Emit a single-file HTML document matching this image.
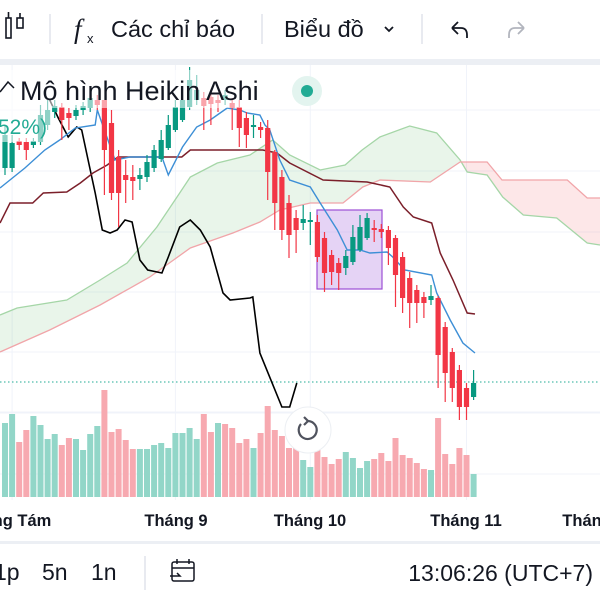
<!DOCTYPE html>
<html><head><meta charset="utf-8"><style>
html,body{margin:0;padding:0;background:#fff;width:600px;height:600px;overflow:hidden;font-family:"Liberation Sans","DejaVu Sans",sans-serif;}
svg{display:block}
</style></head><body>
<svg id="chart" width="600" height="600" viewBox="0 0 600 600" xmlns="http://www.w3.org/2000/svg">
  <rect x="0" y="0" width="600" height="600" fill="#fff"/>
  <g>
    <g>
      <rect x="6" y="18" width="5" height="20" fill="none" stroke="#131722" stroke-width="1.6"/>
      <line x1="8.5" y1="12" x2="8.5" y2="18" stroke="#131722" stroke-width="1.6"/>
      <rect x="17" y="18" width="6" height="10" fill="none" stroke="#131722" stroke-width="1.6"/>
      <line x1="20" y1="13" x2="20" y2="18" stroke="#131722" stroke-width="1.6"/>
    </g>
    <line x1="50" y1="14" x2="50" y2="44" stroke="#e0e3eb" stroke-width="1.5"/>
    <g>
      <text x="74" y="38" font-size="27" font-family="Liberation Serif, serif" font-style="italic" fill="#131722">f</text>
      <text x="87" y="43" font-size="13" fill="#131722">x</text>
      <text x="111" y="37" font-size="23.5" fill="#131722">Các chỉ báo</text>
    </g>
    <line x1="262" y1="14" x2="262" y2="44" stroke="#e0e3eb" stroke-width="1.5"/>
    <g>
      <text x="284" y="37" font-size="23.5" fill="#131722">Biểu đồ</text>
      <polyline points="385,27 389,31 393,27" fill="none" stroke="#131722" stroke-width="1.8"/>
    </g>
    <line x1="422" y1="14" x2="422" y2="44" stroke="#e0e3eb" stroke-width="1.5"/>
    <g>
      <path d="M452 28 L458 22 M452 28 L458 34 M452 28 L461 28 Q467 28 467 35 L467 38" fill="none" stroke="#131722" stroke-width="1.8"/>
    </g>
    <g>
      <path d="M524 28 L518 22 M524 28 L518 34 M524 28 L515 28 Q509 28 509 35 L509 38" fill="none" stroke="#b2b5be" stroke-width="1.8"/>
    </g>
  </g>
  <rect x="0" y="59" width="600" height="6" fill="#eceff4"/>
  <g id="grid"></g>
  <g id="cloud"></g>
  <g id="volume"></g>
  <line x1="0" y1="382" x2="600" y2="382" stroke="#22ab94" stroke-width="1" stroke-dasharray="1.5,2.5"/>
  <rect x="317" y="210" width="65" height="79" fill="rgba(186,140,230,0.38)" stroke="#9c4fd6" stroke-width="1.2"/>
  <g id="lines"></g>
  <g id="candles"></g>
  <rect x="0" y="70" width="290" height="38" fill="#fff" opacity="0.55"/>
  <rect x="0" y="108" width="52" height="34" fill="#fff" opacity="0.55"/>
  <polyline points="0,92 8,82 14,88" fill="none" stroke="#131722" stroke-width="1.5"/>
  <text x="20" y="100" font-size="27" fill="#131722">Mô hình Heikin Ashi</text>
  <circle cx="307" cy="91" r="15" fill="#e3f4ef"/>
  <circle cx="307" cy="91" r="6" fill="#22ab94"/>
  <text x="-2" y="134" font-size="21" fill="#22ab94">52%)</text>
  <g>
    <circle cx="308" cy="430" r="23" fill="#fff" stroke="#eceff3" stroke-width="1"/>
    <path d="M301 424 A9 9 0 1 0 308 421" fill="none" stroke="#50535e" stroke-width="2.2"/>
    <polyline points="304,417 308,421 304,425" fill="none" stroke="#50535e" stroke-width="2.2"/>
  </g>
  <g font-size="16.5" font-weight="bold" fill="#131722" text-anchor="middle">
    <text x="22" y="526">ng Tám</text>
    <text x="176" y="526">Tháng 9</text>
    <text x="310" y="526">Tháng 10</text>
    <text x="466" y="526">Tháng 11</text>
    <text x="582" y="526">Thán</text>
  </g>
  <rect x="0" y="541" width="600" height="3" fill="#eceff4"/>
  <g font-size="23" fill="#131722">
    <text x="-6" y="580">1p</text>
    <text x="42" y="580">5n</text>
    <text x="91" y="580">1n</text>
    <line x1="145" y1="556" x2="145" y2="590" stroke="#e0e3eb" stroke-width="1.5"/>
    <g fill="none" stroke="#131722" stroke-width="1.5">
      <rect x="172" y="562" width="22" height="19" rx="2"/>
      <line x1="172" y1="568" x2="194" y2="568"/>
      <line x1="177" y1="559" x2="177" y2="564"/><line x1="189" y1="559" x2="189" y2="564"/>
      <polyline points="170,576 180,576 177,573"/>
    </g>
    <text x="593" y="581" text-anchor="end">13:06:26 (UTC+7)</text>
  </g>
</svg>
<script>
const opens  = [252,252,279,278,275,278,295,308,313,307,304,310,312,320,320,297,263,245,243,241,243,252,261,272,290,300,313,320,322,323,320,320,317,313,302,293,293,292,268,243,217,202,197,198,198,182,165,157,152,158,170,182,192,191,190,182,163,142,130,123,120,122,93,68,50,32,23];
const closes = [285,277,275,270,279,305,310,314,300,302,310,314,322,315,270,227,227,240,239,245,258,270,280,295,313,320,340,330,314,316,317,325,312,292,285,295,290,248,217,190,185,190,201,200,163,147,148,147,164,183,193,202,190,188,172,145,122,117,117,117,124,65,47,32,13,13,37];
const highs  = [295,285,282,282,282,315,320,320,317,312,315,318,330,325,320,310,270,260,255,252,265,275,290,305,320,325,353,345,328,328,325,330,322,320,308,305,298,300,270,250,225,210,215,208,205,188,170,162,170,195,205,207,200,196,194,185,168,148,135,128,135,124,98,72,55,37,50];
const lows   = [245,248,270,260,272,275,290,302,280,290,300,305,308,310,225,220,193,217,220,230,238,248,258,270,288,298,310,315,290,295,308,315,290,273,272,282,282,220,190,180,162,167,190,175,158,128,135,130,145,155,168,180,178,182,155,113,107,92,97,102,115,32,18,18,0,0,20];
const volumes = [74,83,55,67,81,72,58,63,52,59,58,47,63,71,107,65,68,57,48,48,48,52,54,49,64,64,69,58,83,65,74,73,69,54,58,49,64,91,67,61,49,49,37,30,57,40,33,38,45,39,29,36,38,44,36,59,42,39,34,28,27,79,43,33,49,42,23];
const volumeUp = [1,1,0,0,1,1,1,1,0,0,1,1,1,1,0,0,0,0,0,1,1,1,1,1,1,1,1,1,0,0,1,0,0,0,0,1,0,0,0,0,0,0,1,1,0,0,0,0,1,1,1,1,0,0,0,0,0,0,0,0,1,0,0,0,0,0,1];
const tenkanIdx = [-0.7,2.8,5.6,7.7,9.9,12.7,13,15.5,17.6,22.1,23,25,27,28.9,30.3,31.3,33.1,34.1,35.9,36.6,37.3,38.7,40.1,43,44.4,46.8,48.2,50,51.4,53.8,54.6,56.3,60.1,60.8,62.7,64.5,66.2];
const tenkanVal = [232,252,270,280,292,295,310,260,263,263,245,273,293,300,307,312,310,307,305,295,290,260,240,233,217,190,170,170,167,168,163,150,145,127,100,77,67];
const kijunIdx = [-0.7,0.7,3.9,5.4,8.7,10.6,12.4,14.4,15.9,24.9,26.1,36.3,38.3,40.1,44.8,51,54.2,56.1,57.5,60.1,61.3,63.1,65.1,66.2];
const kijunVal = [197,217,217,227,228,237,247,255,263,263,270,270,267,257,240,238,233,213,203,197,167,140,107,106];
const chikouIdx = [6.3,7.5,8.9,10.1,10.8,11.7,12.7,13.7,14.8,15.8,16.9,17.9,19,20.1,22.1,23,24.6,26.1,27.5,28.9,30.7,31.7,34.5,34.9,35.9,39,40.1,41.1];
const chikouVal = [320,302,283,293,290,260,227,190,187,190,200,198,160,150,147,163,193,200,190,173,127,120,122,123,67,13,13,37];
const spanAIdx = [-0.7,1.7,8.7,13.4,17.2,21.4,24.6,26.1,29.9,34.5,37.7,40.1,44.4,47.9,50.3,52.8,57,60.8,64.1,65.1,67.9,70.1,73,77.7,82,83.8];
const spanAVal = [105,112,120,140,157,193,227,243,257,265,280,265,250,255,270,283,294,287,260,248,245,223,205,202,177,175];
const spanBIdx = [-0.7,6.3,13.4,20.4,26.1,29.3,32.1,35.9,38.7,43,47.6,50.4,52.8,59.9,64.1,67.9,70,79.2,82,83.8];
const spanBVal = [68,90,115,143,172,180,187,198,210,217,217,233,240,238,258,258,240,240,222,222];
const gridPrices = [310,249,188,128,68,8];
const gridTimes = [1,24,43,65];

const NS = 'http://www.w3.org/2000/svg';
const xScale = i => 5 + 7.1 * i;
const yScale = p => 420 - p;
const vScale = v => 497 - v;
function mk(tag, attrs, parent){ const e = document.createElementNS(NS, tag); for (const k in attrs) e.setAttribute(k, attrs[k]); parent.appendChild(e); return e; }

const grid = document.getElementById('grid');
gridPrices.forEach(p => {
  const l = mk('line', {x1:0, x2:600, y1:yScale(p), y2:yScale(p), stroke:'#f0f3fa', 'stroke-width':1}, grid);
  
  
});
[413,474].forEach(y => { const l = mk('line', {x1:0,x2:600,y1:y,y2:y,stroke:'#f0f3fa','stroke-width':1}, grid);
  
   });
gridTimes.forEach(t => {
  const l = mk('line', {x1:xScale(t), x2:xScale(t), y1:65, y2:500, stroke:'#f0f3fa', 'stroke-width':1}, grid);
  
  
});

function pts(idx, val){ return idx.map((d,k) => xScale(d).toFixed(1) + ',' + yScale(val[k]).toFixed(1)); }
const cloud = document.getElementById('cloud');
const defs = mk('defs', {}, cloud);
const cpG = mk('clipPath', {id:'clipG'}, defs); mk('rect', {x:-10, y:0, width:xScale(64.1)+10, height:600}, cpG);
const cpR = mk('clipPath', {id:'clipR'}, defs); mk('rect', {x:xScale(64.1), y:0, width:700, height:600}, cpR);
const aPts = pts(spanAIdx, spanAVal), bPts = pts(spanBIdx, spanBVal);
const poly = aPts.concat(bPts.slice().reverse()).join(' ');
const fg = mk('polygon', {points:poly, fill:'rgba(76,175,80,0.12)', 'clip-path':'url(#clipG)'}, cloud);


const fr = mk('polygon', {points:poly, fill:'rgba(242,54,69,0.12)', 'clip-path':'url(#clipR)'}, cloud);


const la = mk('polyline', {points:aPts.join(' '), fill:'none', stroke:'#a5d6a7', 'stroke-width':1.3}, cloud);


const lb = mk('polyline', {points:bPts.join(' '), fill:'none', stroke:'#f1a5a9', 'stroke-width':1.3}, cloud);



const vg = document.getElementById('volume');
volumes.forEach((v,i) => {
  const r = mk('rect', {x:xScale(i)-3, y:vScale(v), width:6, height:497-vScale(v), fill: volumeUp[i] ? '#92d6c8' : '#f7a9b0'}, vg);
  
  
});

const lg = document.getElementById('lines');
const lc = mk('polyline', {points:pts(chikouIdx, chikouVal).join(' '), fill:'none', stroke:'#000', 'stroke-width':1.6}, lg);


const lk = mk('polyline', {points:pts(kijunIdx, kijunVal).join(' '), fill:'none', stroke:'#7b1f2a', 'stroke-width':1.5}, lg);


const lt = mk('polyline', {points:pts(tenkanIdx, tenkanVal).join(' '), fill:'none', stroke:'#3d8fd6', 'stroke-width':1.4}, lg);



const cg = document.getElementById('candles');
opens.forEach((o,i) => {
  const c = closes[i], up = c >= o, col = up ? '#089981' : '#f23645';
  const x = xScale(i);
  const g = mk('g', {}, cg);
  
  
  mk('line', {x1:x, x2:x, y1:yScale(highs[i]), y2:yScale(lows[i]), stroke:col, 'stroke-width':1.2}, g);
  const top = yScale(Math.max(o,c)), h = Math.max(1.5, Math.abs(o-c));
  mk('rect', {x:x-2.6, y:top, width:5.2, height:h, fill:col}, g);
});
</script>
</body></html>
